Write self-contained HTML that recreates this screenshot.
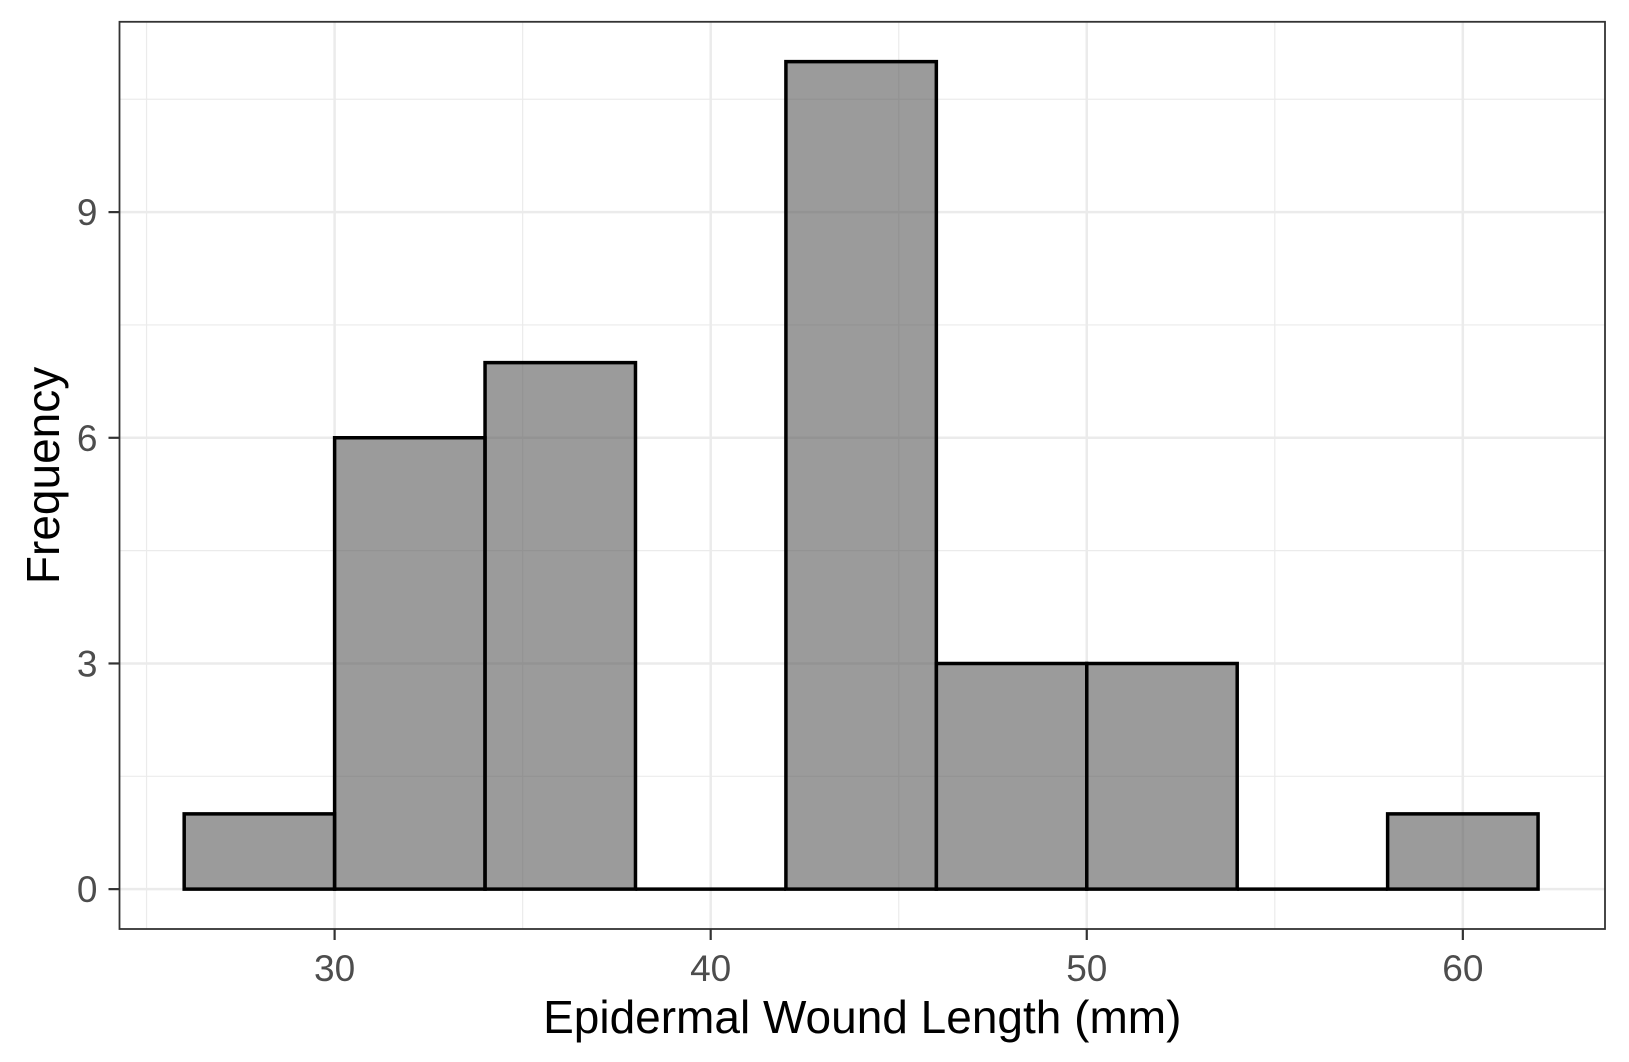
<!DOCTYPE html>
<html><head><meta charset="utf-8"><style>
html,body{margin:0;padding:0;background:#fff;}
svg{display:block;font-family:"Liberation Sans",sans-serif;}
</style></head><body>
<svg id="chart" width="1629" height="1062" viewBox="0 0 1629 1062" xmlns="http://www.w3.org/2000/svg">
<rect width="1629" height="1062" fill="#fff"/>
<g id="grid"></g>
<g id="bars"></g>
<g id="axes"></g>
</svg>
<script>
const binStarts = [26, 30, 34, 38, 42, 46, 50, 54, 58];
const binWidth = 4;
const counts = [1, 6, 7, 0, 11, 3, 3, 0, 1];
const xTicks = [30, 40, 50, 60];
const xMinor = [25, 35, 45, 55];
const yTicks = [0, 3, 6, 9];
const yMinor = [1.5, 4.5, 7.5, 10.5];

const L = 119.5, R = 1605, T = 21.8, B = 929;
const xMin = 24.28, xMax = 63.78, yMin = -0.53, yMax = 11.53;
const sx = v => L + (v - xMin) / (xMax - xMin) * (R - L);
const sy = v => B - (v - yMin) / (yMax - yMin) * (B - T);
const NS = 'http://www.w3.org/2000/svg';
function mk(tag, attrs, parent) {
  const e = document.createElementNS(NS, tag);
  for (const k in attrs) e.setAttribute(k, attrs[k]);
  parent.appendChild(e);
  return e;
}
const grid = document.getElementById('grid');
const bars = document.getElementById('bars');
const axes = document.getElementById('axes');

xMinor.forEach(v => {
  const l = mk('line', {x1: sx(v), x2: sx(v), y1: T, y2: B, stroke: '#ebebeb', 'stroke-width': 1.2}, grid);
  
  
});
yMinor.forEach(v => {
  const l = mk('line', {x1: L, x2: R, y1: sy(v), y2: sy(v), stroke: '#ebebeb', 'stroke-width': 1.2}, grid);
  
  
});
xTicks.forEach(v => {
  const l = mk('line', {x1: sx(v), x2: sx(v), y1: T, y2: B, stroke: '#ebebeb', 'stroke-width': 2.5}, grid);
  
  
});
yTicks.forEach(v => {
  const l = mk('line', {x1: L, x2: R, y1: sy(v), y2: sy(v), stroke: '#ebebeb', 'stroke-width': 2.5}, grid);
  
  
});

binStarts.forEach((s, i) => {
  const x0 = sx(s), x1 = sx(s + binWidth), y0 = sy(0), y1 = sy(counts[i]);
  const d = 'M' + x0 + ',' + y0 + ' L' + x0 + ',' + y1 + ' L' + x1 + ',' + y1 + ' L' + x1 + ',' + y0 + ' Z';
  const r = mk('path', {d: d, fill: 'rgba(89,89,89,0.6)', stroke: '#000', 'stroke-width': 3.5}, bars);
  
  
});

const frame = mk('rect', {x: L, y: T, width: R - L, height: B - T, fill: 'none', stroke: '#333', 'stroke-width': 1.8}, axes);



xTicks.forEach(v => {
  const t = mk('line', {x1: sx(v), x2: sx(v), y1: B, y2: B + 11, stroke: '#333', 'stroke-width': 2.2}, axes);
  
  
  const lb = mk('text', {x: sx(v), y: B + 52, 'text-anchor': 'middle', 'font-size': 37, fill: '#4d4d4d'}, axes);
  lb.textContent = v;
  
  
});
yTicks.forEach(v => {
  const t = mk('line', {x1: L - 11, x2: L, y1: sy(v), y2: sy(v), stroke: '#333', 'stroke-width': 2.2}, axes);
  
  
  const lb = mk('text', {x: L - 22, y: sy(v) + 13, 'text-anchor': 'end', 'font-size': 37, fill: '#4d4d4d'}, axes);
  lb.textContent = v;
  
  
});

const xt = mk('text', {x: (L + R) / 2, y: 1033, 'text-anchor': 'middle', 'font-size': 46, fill: '#000'}, axes);
xt.textContent = 'Epidermal Wound Length (mm)';


const yt = mk('text', {x: 0, y: 0, 'text-anchor': 'middle', 'font-size': 46, fill: '#000', transform: 'translate(59,' + ((T + B) / 2) + ') rotate(-90)'}, axes);
yt.textContent = 'Frequency';


</script>
</body></html>
